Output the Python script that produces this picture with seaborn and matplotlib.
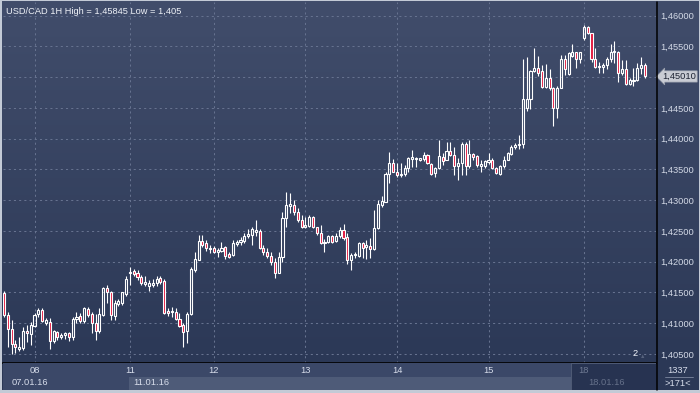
import numpy as np
import pandas as pd
import matplotlib
matplotlib.use("Agg")
import matplotlib.pyplot as plt
import seaborn as sns
from matplotlib.colors import LinearSegmentedColormap
from matplotlib.patches import Rectangle
from matplotlib.lines import Line2D

# USD/CAD hourly candles (07.01.16 - 18.01.16)
opens = [1.4149, 1.4113, 1.4091, 1.4066, 1.4058, 1.4060, 1.4087, 1.4083, 1.4096, 1.4115,
         1.4122, 1.4100, 1.4102, 1.4071, 1.4086, 1.4078, 1.4081, 1.4084, 1.4078, 1.4107,
         1.4112, 1.4104, 1.4123, 1.4115, 1.4100, 1.4087, 1.4113, 1.4157, 1.4151, 1.4112,
         1.4131, 1.4133, 1.4148, 1.4182, 1.4185, 1.4182, 1.4175, 1.4164, 1.4160, 1.4162,
         1.4165, 1.4174, 1.4169, 1.4120, 1.4118, 1.4118, 1.4107, 1.4097, 1.4087, 1.4115,
         1.4187, 1.4203, 1.4234, 1.4230, 1.4221, 1.4223, 1.4216, 1.4218, 1.4224, 1.4213,
         1.4211, 1.4229, 1.4232, 1.4233, 1.4242, 1.4243, 1.4248, 1.4250, 1.4222, 1.4215,
         1.4209, 1.4200, 1.4182, 1.4208, 1.4271, 1.4290, 1.4292, 1.4281, 1.4268, 1.4256,
         1.4258, 1.4273, 1.4256, 1.4247, 1.4230, 1.4232, 1.4242, 1.4234, 1.4242, 1.4252,
         1.4240, 1.4202, 1.4211, 1.4209, 1.4230, 1.4224, 1.4226, 1.4220, 1.4254, 1.4292,
         1.4297, 1.4343, 1.4361, 1.4346, 1.4341, 1.4343, 1.4353, 1.4367, 1.4367, 1.4366,
         1.4367, 1.4373, 1.4359, 1.4344, 1.4352, 1.4370, 1.4366, 1.4380, 1.4373, 1.4355,
         1.4360, 1.4392, 1.4356, 1.4375, 1.4372, 1.4356, 1.4355, 1.4362, 1.4366, 1.4353,
         1.4343, 1.4355, 1.4366, 1.4375, 1.4386, 1.4390, 1.4392, 1.4450, 1.4464, 1.4510,
         1.4514, 1.4510, 1.4484, 1.4498, 1.4482, 1.4449, 1.4483, 1.4529, 1.4505, 1.4535,
         1.4540, 1.4529, 1.4563, 1.4581, 1.4571, 1.4530, 1.4516, 1.4516, 1.4520, 1.4529,
         1.4540, 1.4541, 1.4507, 1.4513, 1.4489, 1.4494, 1.4495, 1.4514, 1.4520]
highs = [1.4152, 1.4118, 1.4105, 1.4073, 1.4078, 1.4094, 1.4097, 1.4102, 1.4117, 1.4125,
         1.4125, 1.4109, 1.4109, 1.4089, 1.4087, 1.4084, 1.4086, 1.4086, 1.4110, 1.4118,
         1.4117, 1.4126, 1.4126, 1.4118, 1.4115, 1.4125, 1.4159, 1.4162, 1.4152, 1.4138,
         1.4139, 1.4151, 1.4177, 1.4192, 1.4188, 1.4187, 1.4178, 1.4176, 1.4170, 1.4172,
         1.4176, 1.4176, 1.4172, 1.4125, 1.4126, 1.4125, 1.4117, 1.4100, 1.4118, 1.4192,
         1.4216, 1.4243, 1.4243, 1.4235, 1.4227, 1.4226, 1.4222, 1.4232, 1.4226, 1.4216,
         1.4235, 1.4235, 1.4240, 1.4247, 1.4253, 1.4257, 1.4268, 1.4253, 1.4227, 1.4222,
         1.4215, 1.4206, 1.4216, 1.4280, 1.4314, 1.4312, 1.4300, 1.4287, 1.4276, 1.4273,
         1.4276, 1.4274, 1.4257, 1.4260, 1.4237, 1.4243, 1.4244, 1.4247, 1.4257, 1.4262,
         1.4247, 1.4214, 1.4216, 1.4232, 1.4232, 1.4235, 1.4238, 1.4284, 1.4301, 1.4307,
         1.4346, 1.4379, 1.4367, 1.4361, 1.4361, 1.4357, 1.4370, 1.4382, 1.4370, 1.4369,
         1.4379, 1.4375, 1.4360, 1.4354, 1.4398, 1.4376, 1.4395, 1.4395, 1.4387, 1.4368,
         1.4395, 1.4395, 1.4398, 1.4377, 1.4373, 1.4365, 1.4366, 1.4376, 1.4368, 1.4354,
         1.4357, 1.4371, 1.4379, 1.4390, 1.4393, 1.4406, 1.4529, 1.4532, 1.4511, 1.4547,
         1.4534, 1.4520, 1.4522, 1.4513, 1.4484, 1.4485, 1.4536, 1.4536, 1.4540, 1.4554,
         1.4541, 1.4541, 1.4585, 1.4583, 1.4572, 1.4547, 1.4525, 1.4523, 1.4533, 1.4554,
         1.4559, 1.4543, 1.4528, 1.4528, 1.4498, 1.4514, 1.4523, 1.4532, 1.4523]
lows = [1.4110, 1.4061, 1.4050, 1.4052, 1.4055, 1.4057, 1.4070, 1.4065, 1.4094, 1.4110,
        1.4102, 1.4097, 1.4058, 1.4068, 1.4073, 1.4074, 1.4074, 1.4071, 1.4073, 1.4100,
        1.4100, 1.4100, 1.4110, 1.4084, 1.4073, 1.4084, 1.4112, 1.4133, 1.4105, 1.4105,
        1.4128, 1.4130, 1.4144, 1.4162, 1.4177, 1.4170, 1.4162, 1.4160, 1.4153, 1.4159,
        1.4160, 1.4164, 1.4115, 1.4112, 1.4110, 1.4105, 1.4094, 1.4061, 1.4068, 1.4113,
        1.4184, 1.4202, 1.4224, 1.4218, 1.4214, 1.4214, 1.4208, 1.4215, 1.4204, 1.4206,
        1.4209, 1.4226, 1.4227, 1.4231, 1.4238, 1.4227, 1.4241, 1.4220, 1.4211, 1.4206,
        1.4195, 1.4173, 1.4181, 1.4200, 1.4257, 1.4279, 1.4276, 1.4265, 1.4254, 1.4254,
        1.4257, 1.4254, 1.4243, 1.4229, 1.4215, 1.4231, 1.4230, 1.4232, 1.4238, 1.4236,
        1.4196, 1.4187, 1.4206, 1.4208, 1.4206, 1.4204, 1.4206, 1.4219, 1.4253, 1.4289,
        1.4297, 1.4328, 1.4345, 1.4338, 1.4338, 1.4339, 1.4346, 1.4354, 1.4354, 1.4364,
        1.4364, 1.4359, 1.4341, 1.4337, 1.4350, 1.4357, 1.4365, 1.4371, 1.4341, 1.4333,
        1.4341, 1.4341, 1.4352, 1.4366, 1.4354, 1.4346, 1.4353, 1.4359, 1.4350, 1.4343,
        1.4341, 1.4353, 1.4365, 1.4373, 1.4383, 1.4383, 1.4385, 1.4445, 1.4448, 1.4509,
        1.4502, 1.4483, 1.4482, 1.4479, 1.4421, 1.4433, 1.4482, 1.4503, 1.4503, 1.4532,
        1.4514, 1.4523, 1.4561, 1.4570, 1.4525, 1.4514, 1.4507, 1.4506, 1.4513, 1.4525,
        1.4523, 1.4492, 1.4503, 1.4487, 1.4487, 1.4486, 1.4493, 1.4505, 1.4498]
closes = [1.4113, 1.4091, 1.4066, 1.4061, 1.4061, 1.4087, 1.4084, 1.4097, 1.4113, 1.4122,
          1.4104, 1.4105, 1.4071, 1.4087, 1.4078, 1.4081, 1.4084, 1.4078, 1.4107, 1.4110,
          1.4104, 1.4125, 1.4113, 1.4100, 1.4087, 1.4115, 1.4157, 1.4151, 1.4113, 1.4133,
          1.4136, 1.4150, 1.4172, 1.4184, 1.4180, 1.4175, 1.4165, 1.4167, 1.4165, 1.4165,
          1.4172, 1.4167, 1.4117, 1.4117, 1.4120, 1.4107, 1.4096, 1.4086, 1.4115, 1.4188,
          1.4204, 1.4234, 1.4227, 1.4222, 1.4223, 1.4216, 1.4219, 1.4223, 1.4209, 1.4208,
          1.4230, 1.4232, 1.4235, 1.4242, 1.4245, 1.4253, 1.4252, 1.4222, 1.4215, 1.4209,
          1.4199, 1.4182, 1.4208, 1.4271, 1.4292, 1.4294, 1.4281, 1.4268, 1.4256, 1.4260,
          1.4273, 1.4256, 1.4247, 1.4230, 1.4232, 1.4242, 1.4232, 1.4242, 1.4252, 1.4238,
          1.4203, 1.4211, 1.4213, 1.4230, 1.4223, 1.4227, 1.4220, 1.4254, 1.4294, 1.4299,
          1.4343, 1.4360, 1.4346, 1.4341, 1.4343, 1.4353, 1.4368, 1.4370, 1.4369, 1.4368,
          1.4373, 1.4360, 1.4343, 1.4352, 1.4372, 1.4364, 1.4380, 1.4373, 1.4356, 1.4360,
          1.4392, 1.4356, 1.4375, 1.4370, 1.4357, 1.4359, 1.4364, 1.4366, 1.4352, 1.4344,
          1.4356, 1.4366, 1.4377, 1.4387, 1.4390, 1.4392, 1.4464, 1.4464, 1.4510, 1.4514,
          1.4507, 1.4484, 1.4498, 1.4483, 1.4449, 1.4483, 1.4529, 1.4513, 1.4539, 1.4541,
          1.4529, 1.4540, 1.4581, 1.4571, 1.4529, 1.4516, 1.4518, 1.4520, 1.4529, 1.4540,
          1.4543, 1.4507, 1.4513, 1.4489, 1.4495, 1.4495, 1.4514, 1.4520, 1.4501]

day_pos = [8, 33, 55, 79, 103, 127, 152]
day_labels = ["08", "11", "12", "13", "14", "15", "18"]
price_ticks = [1.405, 1.410, 1.415, 1.420, 1.425, 1.430, 1.435, 1.440, 1.445, 1.450, 1.455, 1.460]
title_txt = "USD/CAD 1H High = 1,45845 Low = 1,405"
last_price = 1.4501

df = pd.DataFrame({"open": opens, "high": highs, "low": lows, "close": closes})
df["i"] = np.arange(len(df))
df["top"] = df[["open", "close"]].max(axis=1)
df["bot"] = df[["open", "close"]].min(axis=1)
df["up"] = df["close"] >= df["open"]

sns.set_style("dark")
plt.rcParams["font.family"] = ["Liberation Sans", "DejaVu Sans"]

W, H = 700, 393
fig = plt.figure(figsize=(7.0, 3.93), dpi=100)
fig.patch.set_facecolor("#c3cad6")


def box(x0, y0, x1, y1):
    return [x0 / W, 1 - y1 / H, (x1 - x0) / W, (y1 - y0) / H]


# gradient background behind chart and price scale
bg = fig.add_axes(box(2, 1, 699, 390))
grad = np.linspace(0, 1, 256)[:, None]
cmap = LinearSegmentedColormap.from_list("bg", ["#414d6b", "#2a3755"])
bg.imshow(grad, aspect="auto", cmap=cmap, extent=[0, 1, 0, 1])
bg.axis("off")

ax = fig.add_axes(box(3, 2, 656, 363))
ax.set_facecolor("none")
ax.set_xlim(-0.26, 170.9)
ax.set_ylim(1.40354, 1.4622)

grid_kw = dict(color="#66728f", lw=0.75, ls=(0, (2, 3)), zorder=1)
for p in price_ticks:
    ax.axhline(p, **grid_kw)
for d in day_pos:
    ax.axvline(d, **grid_kw)

# candles: wicks above/below body, hollow bodies for up, red for down
ax.vlines(df["i"], df["top"], df["high"], color="white", lw=0.8, zorder=3)
ax.vlines(df["i"], df["low"], df["bot"], color="white", lw=0.8, zorder=3)
face = np.where(df["up"], "none", "#e3173d")
ax.bar(df["i"], df["top"] - df["bot"], bottom=df["bot"], width=0.55,
       color=face, edgecolor="white", linewidth=0.8, zorder=4)

# the 1,45000 label sits under the last price marker
tick_txt = [f"{p:.5f}".replace(".", ",") for p in price_ticks]
tick_txt = ["" if abs(p - last_price) < 0.001 else t for p, t in zip(price_ticks, tick_txt)]
ax.set_yticks(price_ticks)
ax.set_yticklabels(tick_txt)
ax.yaxis.tick_right()
ax.tick_params(axis="y", length=0, pad=3, labelsize=6.7, labelcolor="#d3d9e6")
ax.set_xticks([])
ax.grid(False)
for s in ["top", "left"]:
    ax.spines[s].set_visible(False)
ax.spines["bottom"].set_color("black")
ax.spines["bottom"].set_linewidth(1.2)
ax.spines["right"].set_visible(False)

ax.text(0.004, 0.985, title_txt, transform=ax.transAxes, ha="left", va="top",
        fontsize=6.7, color="#eef1f7")

# last price marker
ax.text(1.0095, last_price, f"{last_price:.5f}".replace(".", ","),
        transform=ax.get_yaxis_transform(), ha="left", va="center",
        fontsize=6.7, color="#1d2333",
        bbox=dict(boxstyle="larrow,pad=0.12", fc="#c9ccd4", ec="#9aa0ad", lw=0.5),
        clip_on=False, zorder=6)

ax.text(0.968, 0.014, "2", transform=ax.transAxes, ha="center", va="bottom",
        fontsize=6.7, color="#eef1f7")
ax.text(0.98, 0.012, "\u25b2", transform=ax.transAxes, ha="center", va="bottom",
        fontsize=4, color="#56627c")

# time axis panel
tx = fig.add_axes(box(3, 363, 656, 390))
tx.set_xlim(ax.get_xlim())
tx.set_ylim(0, 1)
tx.set_facecolor("#3a4767")
tx.axis("off")
tx.add_patch(Rectangle((0, 0), 1, 1, transform=tx.transAxes, fc="#3b4868", ec="none"))
xf = lambda px: (px - 3) / 653
tx.add_patch(Rectangle((xf(129), 0), xf(571) - xf(129), 0.5, transform=tx.transAxes,
                       fc="#4e5b78", ec="none"))
for d, lab in zip(day_pos, day_labels):
    col = "#6f7a93" if lab == "18" else "#d6dcea"
    tx.text(d, 0.74, lab, ha="center", va="center", fontsize=6.7, color=col, zorder=5)
tx.text(xf(12), 0.26, "07.01.16", transform=tx.transAxes, ha="left", va="center",
        fontsize=6.7, color="#d6dcea")
tx.text(xf(133), 0.26, "11.01.16", transform=tx.transAxes, ha="left", va="center",
        fontsize=6.7, color="#d6dcea")
tx.add_patch(Rectangle((xf(571), 0), 1 - xf(571), 1, transform=tx.transAxes,
                       fc="#263250", ec="#56627c", lw=0.6, alpha=0.92, zorder=4))
tx.text(xf(588), 0.26, "18.01.16", transform=tx.transAxes, ha="left", va="center",
        fontsize=6.7, color="#66718a", zorder=5)

# bottom right counter box
cb = fig.add_axes(box(657, 363, 699, 390))
cb.set_xlim(0, 1)
cb.set_ylim(0, 1)
cb.set_facecolor("#2b3856")
cb.set_xticks([])
cb.set_yticks([])
for s in cb.spines.values():
    s.set_visible(False)
cb.text(0.5, 0.73, "1337", ha="center", va="center", fontsize=6.7, color="#d6dcea")
cb.plot([0.18, 0.85], [0.5, 0.5], color="#7d88a0", lw=0.6)
cb.text(0.5, 0.25, ">171<", ha="center", va="center", fontsize=6.7, color="#d6dcea")

# frame separators
fig.add_artist(Line2D([656.5 / W] * 2, [1 - 390 / H, 1 - 2 / H], color="black", lw=1.1))

fig.savefig("out.png", dpi=100, facecolor=fig.get_facecolor())
